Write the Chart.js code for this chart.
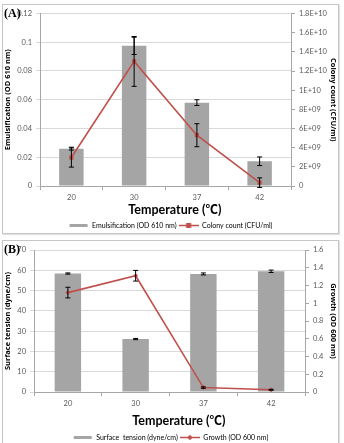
<!DOCTYPE html>
<html><head><meta charset="utf-8">
<script src="https://cdn.jsdelivr.net/npm/chart.js@4/dist/chart.umd.min.js"></script>
<style>
body{margin:0;background:#fff;width:344px;height:443px;overflow:hidden;position:relative}
.box{position:absolute;border:1px solid #c6c6c6;box-shadow:1px 1px 1px #e2e2e2;background:#fff}
#boxA{left:2px;top:4px;width:335px;height:228px}
#boxB{left:2px;top:240px;width:335px;height:212px}
.cv{position:absolute;left:0;top:0}
.lab{position:absolute;font-family:"Liberation Serif";font-weight:bold;font-size:12px;color:#000;left:1px;top:1px}
</style></head>
<body>
<div class="box" id="boxA"><canvas id="cA" class="cv" width="335" height="228"></canvas><div class="lab">(A)</div></div>
<div class="box" id="boxB"><canvas id="cB" class="cv" width="335" height="202"></canvas><div class="lab">(B)</div></div>
<script>
const temps = ['20', '30', '37', '42'];
const emulsification = [0.026, 0.0975, 0.058, 0.0172];
const emulsificationErr = [0.001, 0.006, 0.002, 0.003];
const colonyCount = [2.97e9, 1.30e10, 5.3e9, 3.5e8];
const colonyCountErr = [1.0e9, 2.6e9, 1.2e9, 5e8];
const surfaceTension = [58.4, 26.1, 58.2, 59.5];
const surfaceTensionErr = [0.3, 0.3, 0.5, 0.6];
const growth = [1.12, 1.31, 0.05, 0.025];
const growthErr = [0.06, 0.06, 0.008, 0.005];
const emulTicks = ['0', '0.02', '0.04', '0.06', '0.08', '0.1', '0.12'];
const colonyTicks = ['0', '2E+09', '4E+09', '6E+09', '8E+09', '1E+10', '1.2E+10', '1.4E+10', '1.6E+10', '1.8E+10'];
const tensionTicks = ['0', '10', '20', '30', '40', '50', '60', '70'];
const growthTicks = ['0', '0.2', '0.4', '0.6', '0.8', '1', '1.2', '1.4', '1.6'];

const BAR = '#a5a5a5', RED = '#c0504d', AX = '#a6a6a6', TXT = '#595959';
const FONT = 'Lato';
const TFONT = 'Lato, "Noto Sans CJK SC"';

function icon(kind, marker) {
  const c = document.createElement('canvas');
  c.width = 20; c.height = 7;
  const g = c.getContext('2d');
  if (kind === 'bar') { g.fillStyle = BAR; g.fillRect(1, 2, 18, 3); }
  else {
    g.strokeStyle = RED; g.lineWidth = 1.5;
    g.beginPath(); g.moveTo(0, 3.5); g.lineTo(20, 3.5); g.stroke();
    g.fillStyle = RED;
    if (marker === 'rect') g.fillRect(7.5, 1, 5, 5);
    else { g.beginPath(); g.moveTo(10, 0.8); g.lineTo(12.7, 3.5); g.lineTo(10, 6.2); g.lineTo(7.3, 3.5); g.closePath(); g.fill(); }
  }
  return c;
}

const errorBars = {
  id: 'errorBars',
  afterDatasetsDraw(chart) {
    const ctx = chart.ctx;
    ctx.save();
    ctx.strokeStyle = '#000'; ctx.lineWidth = 1;
    chart.data.datasets.forEach((ds, di) => {
      const meta = chart.getDatasetMeta(di);
      const sc = chart.scales[meta.yAxisID];
      ds.data.forEach((v, i) => {
        const e = ds.errs[i];
        const x = meta.data[i].x;
        const y1 = sc.getPixelForValue(v + e), y2 = sc.getPixelForValue(v - e);
        ctx.beginPath();
        ctx.moveTo(x, y1); ctx.lineTo(x, y2);
        ctx.moveTo(x - 2.5, y1); ctx.lineTo(x + 2.5, y1);
        ctx.moveTo(x - 2.5, y2); ctx.lineTo(x + 2.5, y2);
        ctx.stroke();
      });
    });
    ctx.restore();
  }
};

function makeChart(id, cfg) {
  const tickFont = {family: FONT, size: 7.5};
  return new Chart(document.getElementById(id), {
    data: {
      labels: temps,
      datasets: [
        {type: 'bar', label: cfg.barLabel, data: cfg.bar, errs: cfg.barErr, backgroundColor: BAR,
         barPercentage: 0.78, categoryPercentage: 0.5, yAxisID: 'y', order: 2},
        {type: 'line', label: cfg.lineLabel, data: cfg.line, errs: cfg.lineErr, borderColor: RED, backgroundColor: RED,
         borderWidth: 1.6, pointStyle: cfg.marker, pointRadius: cfg.marker === 'rect' ? 3 : 2.5,
         pointBorderWidth: 0, yAxisID: 'y1', order: 1}
      ]
    },
    options: {
      responsive: false, animation: false,
      layout: {padding: {top: cfg.padTop, left: 0, right: 0, bottom: cfg.padBottom}},
      plugins: {
        tooltip: {enabled: false},
        legend: {
          position: 'bottom',
          labels: {
            usePointStyle: true, pointStyleWidth: 20, boxHeight: 7, padding: 2,
            font: {family: FONT, size: 7}, color: TXT,
            generateLabels: () => [
              {text: cfg.barLabel, pointStyle: icon('bar'), fillStyle: BAR, strokeStyle: BAR, lineWidth: 0, datasetIndex: 0},
              {text: cfg.lineLabel, pointStyle: icon('line', cfg.marker), fillStyle: RED, strokeStyle: RED, lineWidth: 0, datasetIndex: 1}
            ]
          }
        }
      },
      scales: {
        x: {
          grid: {offset: true, drawOnChartArea: false, tickLength: 4, color: AX},
          border: {color: AX},
          ticks: {font: tickFont, color: TXT, padding: 3},
          title: {display: true, text: '\u2002\u2002\u2002Temperature (℃)', color: '#000',
                  font: {family: TFONT, size: 12.5, weight: 'bold'}, padding: {top: 3, bottom: cfg.titlePadB}},
          afterFit: s => { s.height = cfg.xH; }
        },
        y: {
          position: 'left', min: 0, max: cfg.yMax,
          ticks: {stepSize: cfg.yStep, font: tickFont, color: TXT, padding: 4, callback: (v, i) => cfg.yTicks[i]},
          grid: {color: '#d9d9d9', tickLength: 4},
          border: {display: true, color: AX},
          title: {display: true, text: cfg.yTitle, color: '#000', font: {family: 'Open Sans', size: 7.5, weight: 'bold'}, padding: 0},
          afterFit: s => { s.width = cfg.yW; }
        },
        y1: {
          position: 'right', min: 0, max: cfg.y1Max,
          ticks: {stepSize: cfg.y1Step, font: tickFont, color: TXT, padding: 4, callback: (v, i) => cfg.y1Ticks[i]},
          grid: {drawOnChartArea: false, tickLength: 4, color: AX},
          border: {display: true, color: AX},
          title: {display: true, text: cfg.y1Title, color: '#000', font: {family: 'Open Sans', size: 7.5, weight: 'bold'}, padding: 0},
          afterFit: s => { s.width = cfg.y1W; }
        }
      }
    },
    plugins: [errorBars]
  });
}

makeChart('cA', {
  barLabel: 'Emulsification (OD 610 nm)', lineLabel: 'Colony count (CFU/ml)',
  bar: emulsification, barErr: emulsificationErr, line: colonyCount, lineErr: colonyCountErr,
  marker: 'rect', padTop: 8, padBottom: -6, xH: 34, titlePadB: 3, yW: 37, y1W: 47,
  yMax: 0.12, yStep: 0.02, yTicks: emulTicks, yTitle: 'Emulsification (OD 610 nm)',
  y1Max: 1.8e10, y1Step: 2e9, y1Ticks: colonyTicks, y1Title: 'Colony count (CFU/ml)'
});
makeChart('cB', {
  barLabel: 'Surface  tension (dyne/cm)', lineLabel: 'Growth (OD 600 nm)',
  bar: surfaceTension, barErr: surfaceTensionErr, line: growth, lineErr: growthErr,
  marker: 'rectRot', padTop: 9, padBottom: -8, xH: 40, titlePadB: 4, yW: 31, y1W: 33,
  yMax: 70, yStep: 10, yTicks: tensionTicks, yTitle: 'Surface tension (dyne/cm)',
  y1Max: 1.6, y1Step: 0.2, y1Ticks: growthTicks, y1Title: 'Growth (OD 600 nm)'
});
</script>
</body></html>
